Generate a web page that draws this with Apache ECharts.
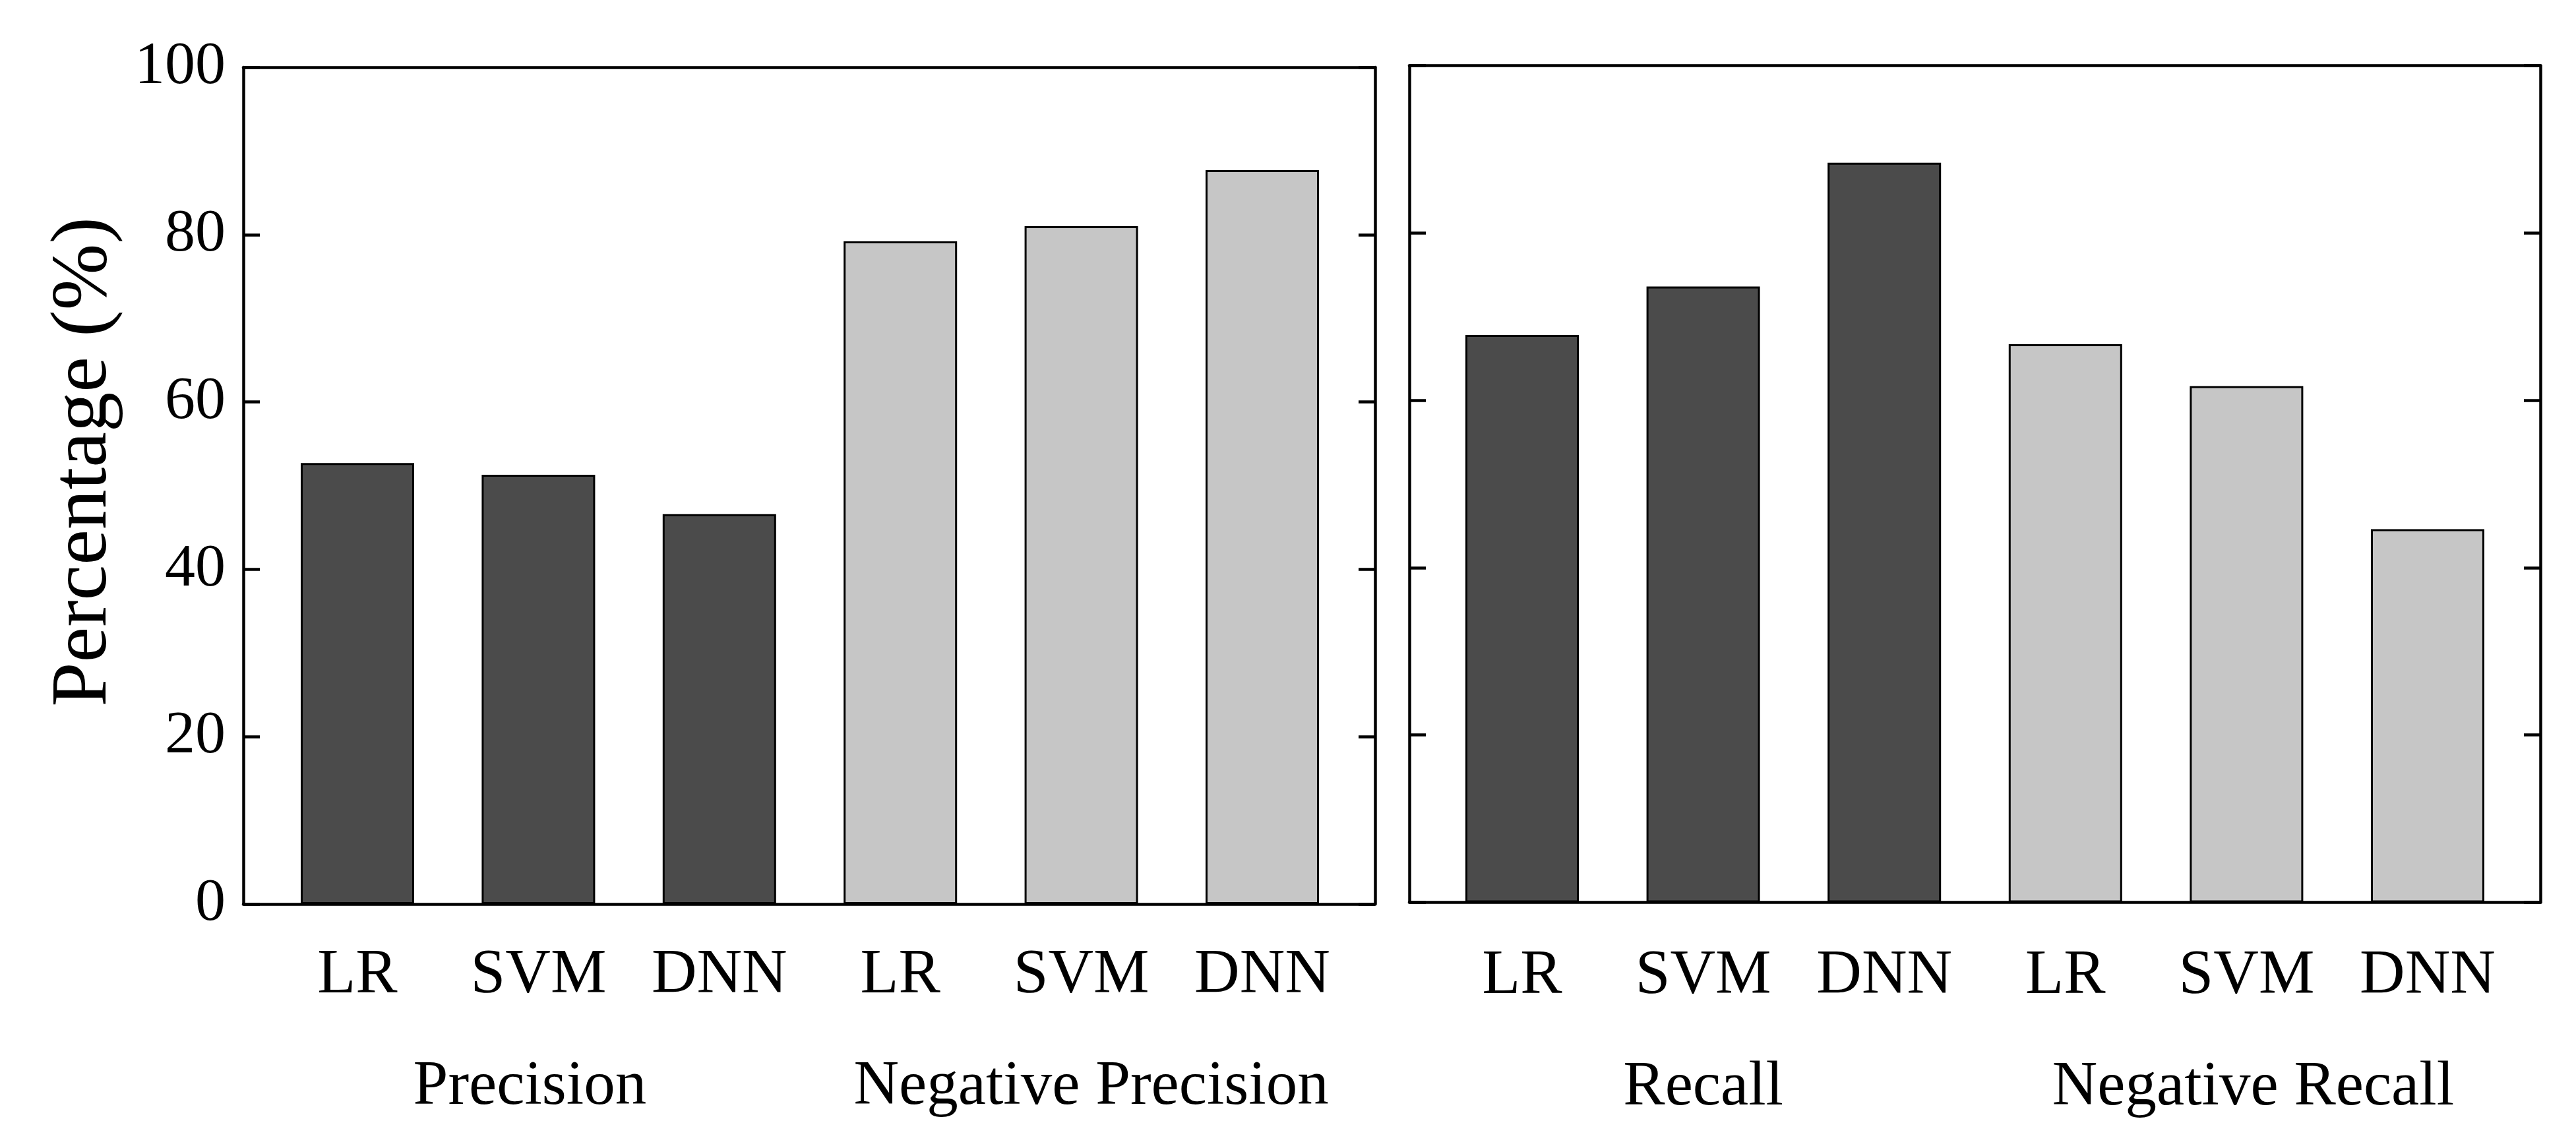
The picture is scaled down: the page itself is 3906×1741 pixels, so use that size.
<!DOCTYPE html>
<html>
<head>
<meta charset="utf-8">
<script src="https://cdn.jsdelivr.net/npm/echarts@6/dist/echarts.min.js"></script>
<style>
html,body{margin:0;padding:0;background:#fff;}
#chart{width:3906px;height:1741px;}
</style>
</head>
<body>
<div id="chart"></div>
<script>
// ---- data ----
const methods = ['LR', 'SVM', 'DNN'];
const groupsLeft = ['Precision', 'Negative Precision'];
const groupsRight = ['Recall', 'Negative Recall'];
const precision = [52.7, 51.3, 46.6];
const negPrecision = [79.2, 81.0, 87.7];
const recall = [67.8, 73.6, 88.4];
const negRecall = [66.7, 61.7, 44.6];
const yMin = 0, yMax = 100, yStep = 20;
const yTitle = 'Percentage (%)';

// ---- styles ----
const FONT = 'Liberation Serif';
const DARK = '#4b4b4b', LIGHT = '#c6c6c6';
const LW = 4.5;
// small horizontal nudges of group labels [padLeft, padRight]
const groupPadLeft = [[0, 26], [30, 0]];
const groupPadRight = [[0, 0], [20, 0]];

const chart = echarts.init(document.getElementById('chart'), null, {renderer: 'canvas'});

function frameX(gridIndex, pos) {
  return {
    type: 'value', gridIndex, position: pos, min: 0, max: 1,
    axisLine: {show: true, onZero: false, lineStyle: {color: '#000', width: LW}},
    axisTick: {show: false}, axisLabel: {show: false}, splitLine: {show: false}
  };
}
function frameY(gridIndex, pos, labels, name) {
  const ax = {
    type: 'value', gridIndex, position: pos, min: yMin, max: yMax, interval: yStep,
    axisLine: {show: true, onZero: false, lineStyle: {color: '#000', width: LW}},
    axisTick: {show: true, inside: true, length: 25, lineStyle: {color: '#000', width: LW}},
    axisLabel: {show: labels, margin: 27, color: '#000', fontFamily: FONT, fontSize: 92},
    splitLine: {show: false}
  };
  if (name) {
    ax.name = name;
    ax.nameLocation = 'middle';
    ax.nameRotate = 90;
    ax.nameGap = 180;
    ax.nameTextStyle = {color: '#000', fontFamily: FONT, fontSize: 121, padding: [0, 0, 0, 72]};
  }
  return ax;
}
function catX(gridIndex, cats, margin, pads) {
  const data = pads
    ? cats.map((c, i) => ({value: c, textStyle: {padding: [0, pads[i][1], 0, pads[i][0]]}}))
    : cats;
  return {
    type: 'category', gridIndex, position: 'bottom', data, boundaryGap: true,
    axisLine: {show: false}, axisTick: {show: false}, splitLine: {show: false},
    axisLabel: {show: true, interval: 0, margin, color: '#000', fontFamily: FONT, fontSize: 95, lineHeight: 95}
  };
}
function hiddenY(gridIndex) {
  return {type: 'value', gridIndex, min: yMin, max: yMax, show: false, splitLine: {show: false}};
}
function barData(a, b) {
  return a.map(v => ({value: v, itemStyle: {color: DARK}}))
    .concat(b.map(v => ({value: v, itemStyle: {color: LIGHT}})));
}
const cats = methods.concat(methods);

const option = {
  backgroundColor: '#fff',
  animation: false,
  grid: [
    {left: 369, top: 102, width: 1716, height: 1269},
    {left: 404.8, top: 102, width: 1646.4, height: 1269},
    {left: 2137, top: 99.5, width: 1715, height: 1269},
    {left: 2170.7, top: 99.5, width: 1647.6, height: 1269}
  ],
  xAxis: [
    frameX(0, 'bottom'), frameX(0, 'top'),
    catX(1, cats, 62), catX(1, groupsLeft, 231, groupPadLeft),
    frameX(2, 'bottom'), frameX(2, 'top'),
    catX(3, cats, 65), catX(3, groupsRight, 234, groupPadRight)
  ],
  yAxis: [
    frameY(0, 'left', true, yTitle), frameY(0, 'right', false),
    hiddenY(1),
    frameY(2, 'left', false), frameY(2, 'right', false),
    hiddenY(3)
  ],
  series: [
    {
      type: 'bar', xAxisIndex: 2, yAxisIndex: 2, barWidth: 172,
      data: barData(precision, negPrecision),
      itemStyle: {borderColor: '#000', borderWidth: 3}
    },
    {
      type: 'bar', xAxisIndex: 6, yAxisIndex: 5, barWidth: 172,
      data: barData(recall, negRecall),
      itemStyle: {borderColor: '#000', borderWidth: 3}
    }
  ]
};
chart.setOption(option);
</script>
</body>
</html>
